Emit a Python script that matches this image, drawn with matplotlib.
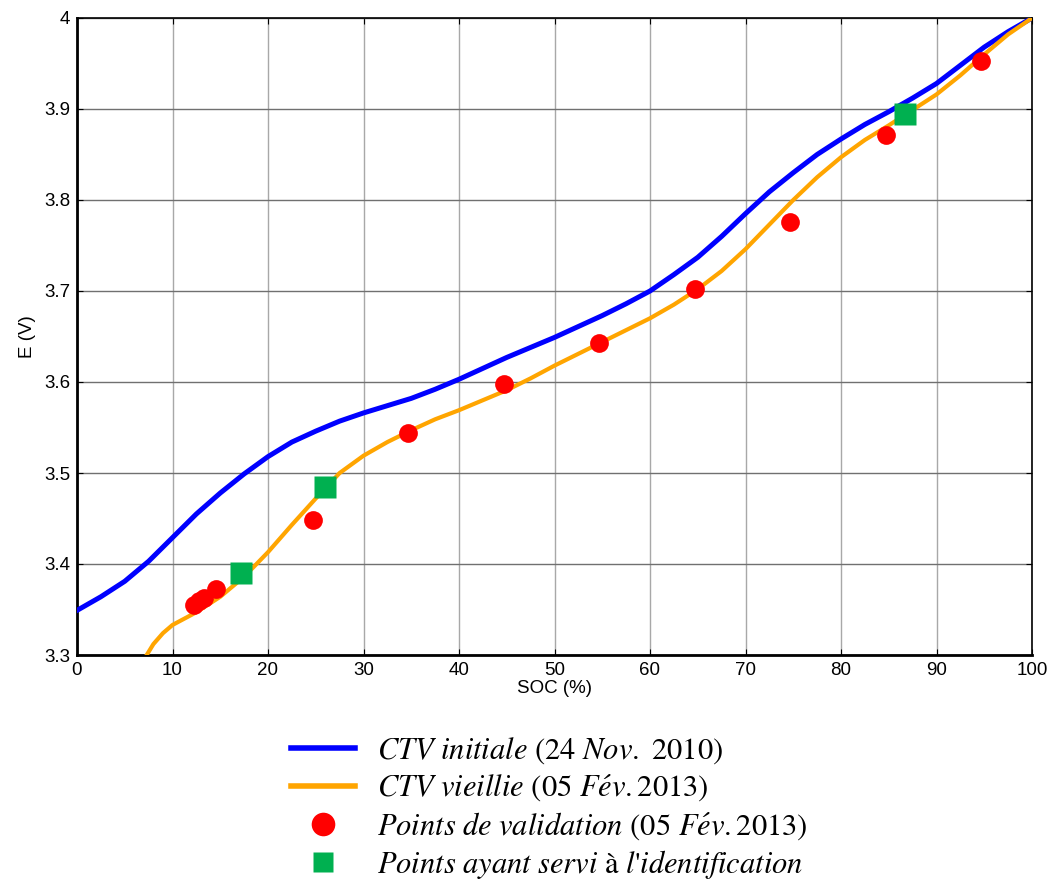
import numpy as np
import matplotlib
matplotlib.use("Agg")
import matplotlib.pyplot as plt
from matplotlib.lines import Line2D

# OCV curves (SOC in %, E in V)
soc_init = [0, 2.5, 5, 7.5, 10, 12.5, 15, 17.5, 20, 22.5, 25, 27.5, 30, 32.5, 35, 37.5, 40, 42.5, 45, 47.5,
            50, 52.5, 55, 57.5, 60, 62.5, 65, 67.5, 70, 72.5, 75, 77.5, 80, 82.5, 85, 87.5, 90, 92.5, 95, 97.5, 100]
e_init = [3.349, 3.364, 3.381, 3.403, 3.429, 3.455, 3.478, 3.499, 3.518, 3.534, 3.546, 3.557, 3.566, 3.574,
          3.582, 3.592, 3.603, 3.615, 3.627, 3.638, 3.649, 3.661, 3.673, 3.686, 3.700, 3.718, 3.737, 3.760,
          3.785, 3.809, 3.830, 3.850, 3.867, 3.883, 3.897, 3.912, 3.928, 3.948, 3.968, 3.985, 4.0]

soc_aged = [7.3, 8, 9, 10, 12.5, 15, 17.5, 20, 22.5, 25, 27.5, 30, 32.5, 35, 37.5, 40, 42.5, 45, 47.5,
            50, 52.5, 55, 57.5, 60, 62.5, 65, 67.5, 70, 72.5, 75, 77.5, 80, 82.5, 85, 87.5, 90, 92.5, 95, 97.5, 100]
e_aged = [3.3, 3.312, 3.324, 3.333, 3.347, 3.364, 3.386, 3.413, 3.443, 3.472, 3.500, 3.519, 3.534, 3.547,
          3.559, 3.569, 3.580, 3.591, 3.604, 3.618, 3.631, 3.644, 3.657, 3.670, 3.685, 3.702, 3.722, 3.746,
          3.773, 3.800, 3.825, 3.847, 3.866, 3.882, 3.899, 3.916, 3.937, 3.960, 3.982, 4.0]

# validation points
soc_val = [12.3, 12.8, 13.3, 14.6, 24.7, 34.7, 44.7, 54.7, 64.7, 74.7, 84.7, 94.7]
e_val = [3.355, 3.359, 3.363, 3.372, 3.448, 3.544, 3.598, 3.643, 3.702, 3.776, 3.871, 3.953]

# points used for identification
soc_id = [17.2, 26.0, 86.7]
e_id = [3.390, 3.485, 3.895]

labels = [r'$CTV\ initiale$ (24 $Nov.$ 2010)',
          r'$CTV\ vieillie$ (05 $F\acute{e}v.$2013)',
          r'$Points\ de\ validation$ (05 $F\acute{e}v.$2013)',
          r"$Points\ ayant\ servi$ à $l$'$identification$"]

plt.rcParams['font.family'] = ['Liberation Sans', 'DejaVu Sans']
plt.rcParams['mathtext.fontset'] = 'stix'

fig = plt.figure(figsize=(10.56, 8.84), dpi=100)
ax = fig.add_axes([77/1056, 1-655/884, 955/1056, 637/884])

ax.plot(soc_init, e_init, color='#0000ff', lw=3.6, zorder=3, solid_joinstyle='round')
ax.plot(soc_aged, e_aged, color='#ffa500', lw=3.0, zorder=3, solid_joinstyle='round')
ax.plot(soc_val, e_val, 'o', color='#ff0000', ms=13.5, mec='none', zorder=4)
ax.plot(soc_id, e_id, 's', color='#00b050', ms=16, mec='none', zorder=5)

ax.set_xlim(0, 100)
ax.set_ylim(3.3, 4.0)
ax.set_xticks(np.arange(0, 101, 10))
ax.set_yticks(np.arange(3.3, 4.01, 0.1))
ax.set_yticklabels(['3.3', '3.4', '3.5', '3.6', '3.7', '3.8', '3.9', '4'])
ax.grid(axis='x', color='#a8a8a8', lw=1.0)
ax.grid(axis='y', color='#707070', lw=1.0)
ax.tick_params(direction='in', length=4, top=True, right=True, labelsize=13.5, pad=5)
ax.set_xlabel('SOC (%)', fontsize=13.5, labelpad=1)
ax.set_ylabel('E (V)', fontsize=13.5, labelpad=6)
for side in ['left', 'bottom']:
    ax.spines[side].set_linewidth(2)
for side in ['top', 'right']:
    ax.spines[side].set_linewidth(1.2)

handles = [Line2D([], [], color='#0000ff', lw=4),
           Line2D([], [], color='#ffa500', lw=4),
           Line2D([], [], ls='none', marker='o', color='#ff0000', ms=17, mec='none'),
           Line2D([], [], ls='none', marker='s', color='#00b050', ms=14, mec='none')]
fig.legend(handles, labels, loc='upper center', bbox_to_anchor=(0.52, 1-720/884),
           frameon=False, prop={'family': 'STIXGeneral', 'size': 22}, handlelength=2.1,
           handletextpad=0.7, labelspacing=0.2, borderpad=0)

fig.savefig('out.png', dpi=100)
